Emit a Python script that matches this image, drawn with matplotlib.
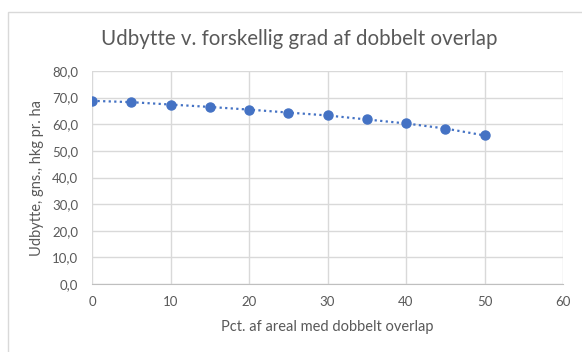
import matplotlib
matplotlib.use("Agg")
import matplotlib.pyplot as plt
from matplotlib.patches import Rectangle
from matplotlib.ticker import FuncFormatter

# Share of area with double overlap (%) and average yield (hkg per ha)
overlap_pct = [0, 5, 10, 15, 20, 25, 30, 35, 40, 45, 50]
yield_hkg = [68.8, 68.3, 67.4, 66.5, 65.5, 64.4, 63.3, 61.8, 60.3, 58.4, 55.8]

x_ticks = [0, 10, 20, 30, 40, 50, 60]
y_ticks = [0, 10, 20, 30, 40, 50, 60, 70, 80]

title = "Udbytte v. forskellig grad af dobbelt overlap"
x_label = "Pct. af areal med dobbelt overlap"
y_label = "Udbytte, gns., hkg pr. ha"

plt.rcParams["font.family"] = ["Lato", "DejaVu Sans"]

W, H = 582, 352
fig = plt.figure(figsize=(W / 100, H / 100), dpi=100)
fig.patch.set_facecolor("white")

# chart frame
fig.patches.append(Rectangle((8 / W, -0.1), 1.2, 1 - 12 / H + 0.1,
                             transform=fig.transFigure, fill=False,
                             edgecolor="#d9d9d9", linewidth=1.0))

left, right, top, bottom = 92, 563, 71, 284
ax = fig.add_axes([left / W, 1 - bottom / H, (right - left) / W, (bottom - top) / H])

ax.plot(overlap_pct, yield_hkg, linestyle=(0, (1, 1.5)), color="#4472C4",
        linewidth=1.6, marker="o", markersize=6.5, markerfacecolor="#4472C4",
        markeredgecolor="#4472C4", zorder=3)

ax.set_xlim(0, 60)
ax.set_ylim(0, 80)
ax.set_xticks(x_ticks)
ax.set_yticks(y_ticks)
ax.yaxis.set_major_formatter(FuncFormatter(lambda v, p: f"{v:.1f}".replace(".", ",")))
ax.grid(True, color="#d9d9d9", linewidth=1.0)
ax.set_axisbelow(True)
for s in ["top", "right", "left"]:
    ax.spines[s].set_visible(False)
ax.spines["bottom"].set_color("#bfbfbf")
ax.tick_params(length=0, colors="#595959", labelsize=9.5)
ax.tick_params(axis="x", pad=9)
ax.tick_params(axis="y", pad=10)

ax.set_xlabel(x_label, color="#595959", fontsize=10.5, labelpad=8)
ax.set_ylabel(y_label, color="#595959", fontsize=10.5, labelpad=6)

fig.text(299 / W, 1 - 39 / H, title, ha="center", va="center",
         color="#595959", fontsize=14.8)

fig.savefig("out.png", dpi=100, facecolor="white")
